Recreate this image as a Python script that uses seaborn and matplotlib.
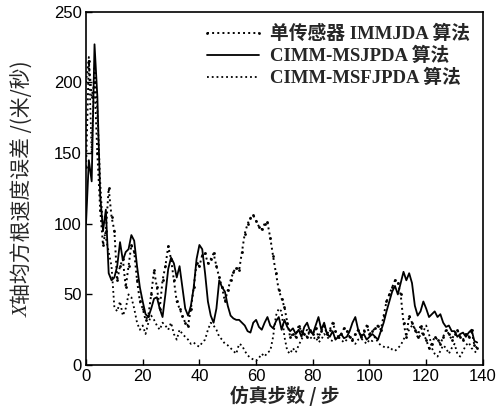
import numpy as np
import seaborn as sns
import matplotlib.pyplot as plt

steps = np.arange(0, 139)

# CIMM-MSJPDA (solid)
msjpda = [100, 145, 130, 227, 190, 120, 95, 110, 65, 60,
          62, 70, 87, 74, 80, 82, 92, 88, 70, 55,
          45, 36, 34, 40, 47, 48, 40, 34, 50, 68,
          76, 72, 62, 70, 55, 40, 35, 42, 55, 75,
          85, 82, 65, 45, 35, 30, 40, 60, 55, 52,
          42, 35, 33, 32, 32, 30, 28, 24, 23, 30,
          32, 27, 25, 30, 34, 28, 26, 31, 34, 25,
          32, 27, 24, 26, 22, 25, 20, 27, 30, 24,
          22, 28, 34, 25, 30, 22, 20, 24, 18, 20,
          22, 19, 20, 24, 30, 34, 25, 20, 22, 18,
          20, 22, 20, 18, 24, 30, 38, 45, 52, 56,
          50, 58, 66, 60, 65, 58, 42, 35, 38, 45,
          40, 34, 36, 38, 34, 36, 30, 27, 28, 24,
          24, 20, 22, 23, 20, 23, 25, 17, 16]

# single sensor IMMJDA (dotted with markers)
immjda = [140, 215, 190, 200, 150, 110, 85, 95, 125, 105,
          95, 60, 70, 75, 55, 70, 85, 80, 60, 45,
          40, 32, 35, 50, 67, 55, 40, 60, 70, 84,
          75, 60, 45, 40, 35, 30, 28, 40, 55, 72,
          70, 78, 79, 72, 75, 79, 70, 62, 55, 45,
          53, 60, 66, 69, 67, 80, 93, 100, 104, 106,
          102, 98, 96, 100, 101, 90, 77, 65, 53, 47,
          41, 30, 20, 22, 20, 28, 24, 22, 20, 25,
          22, 26, 20, 24, 28, 22, 25, 30, 24, 20,
          22, 26, 24, 20, 18, 22, 25, 20, 24, 28,
          22, 24, 26, 28, 25, 35, 45, 50, 55, 60,
          58, 50, 30, 20, 35, 30, 25, 20, 28, 22,
          18, 12, 15, 20, 18, 15, 20, 25, 22, 18,
          22, 25, 20, 18, 22, 20, 25, 14, 12]

# CIMM-MSFJPDA (dotted)
msfjpda = [200, 218, 150, 210, 180, 130, 95, 90, 80, 70,
           41, 38, 45, 35, 40, 50, 48, 40, 30, 25,
           28, 22, 30, 35, 32, 28, 25, 30, 28, 25,
           30, 22, 18, 25, 22, 20, 18, 15, 16, 14,
           13, 16, 18, 25, 30, 28, 25, 20, 18, 15,
           14, 12, 10, 8, 15, 14, 10, 7, 5, 4,
           3, 5, 8, 6, 9, 10, 20, 35, 40, 38,
           20, 10, 8, 12, 9, 14, 18, 22, 25, 20,
           18, 20, 16, 18, 22, 20, 18, 17, 19, 20,
           18, 16, 18, 20, 17, 15, 18, 19, 17, 15,
           18, 17, 20, 16, 14, 13, 12, 13, 11, 10,
           12, 14, 18, 22, 25, 28, 26, 22, 20, 24,
           28, 22, 12, 8, 6, 10, 14, 12, 8, 12,
           15, 8, 6, 10, 14, 16, 12, 10, 8]

labels = ['单传感器 IMMJDA 算法', 'CIMM-MSJPDA 算法', 'CIMM-MSFJPDA 算法']

sns.set_style('ticks')
plt.rcParams['font.family'] = ['Liberation Sans', 'Noto Sans CJK SC', 'DejaVu Sans']

fig = plt.figure(figsize=(5.03, 4.07), dpi=100)
ax = fig.add_axes([0.171, 0.103, 0.789, 0.868])

sns.lineplot(x=steps, y=immjda, ax=ax, color='black', linestyle=':', linewidth=1.4,
             marker='o', markersize=2, markeredgewidth=0, label=labels[0])
sns.lineplot(x=steps, y=msjpda, ax=ax, color='black', linestyle='-', linewidth=1.3,
             label=labels[1])
sns.lineplot(x=steps, y=msfjpda, ax=ax, color='black', linestyle=':', linewidth=1.3,
             label=labels[2])

ax.set_xlim(0, 140)
ax.set_ylim(0, 250)
ax.set_xticks(range(0, 141, 20))
ax.set_yticks(range(0, 251, 50))
ax.tick_params(direction='in', length=4, width=1, labelsize=12, colors='black', pad=3)
for s in ax.spines.values():
    s.set_linewidth(1.2)
    s.set_color('black')

ax.set_xlabel('仿真步数 / 步', fontsize=13.5, fontweight='bold',
              family=['Noto Sans CJK SC'], labelpad=1)
ax.set_ylabel('')
# y label: italic X followed by the Chinese text
fig.text(0.046, 0.221, 'X', rotation=90, ha='center', va='bottom',
         fontsize=15, style='italic', family=['Liberation Serif'])
fig.text(0.046, 0.254, '轴均方根速度误差 /(米/秒)', rotation=90, ha='center',
         va='bottom', fontsize=15, family=['Noto Sans CJK SC'])

leg = ax.legend(loc='upper right', frameon=False, handlelength=3.4, numpoints=2,
                labelspacing=0.2, borderpad=0.2, borderaxespad=0.5,
                handletextpad=0.25,
                prop={'family': ['Liberation Serif', 'Noto Sans CJK SC'],
                      'weight': 'bold', 'size': 13.5})

fig.savefig('out.png', dpi=100)
